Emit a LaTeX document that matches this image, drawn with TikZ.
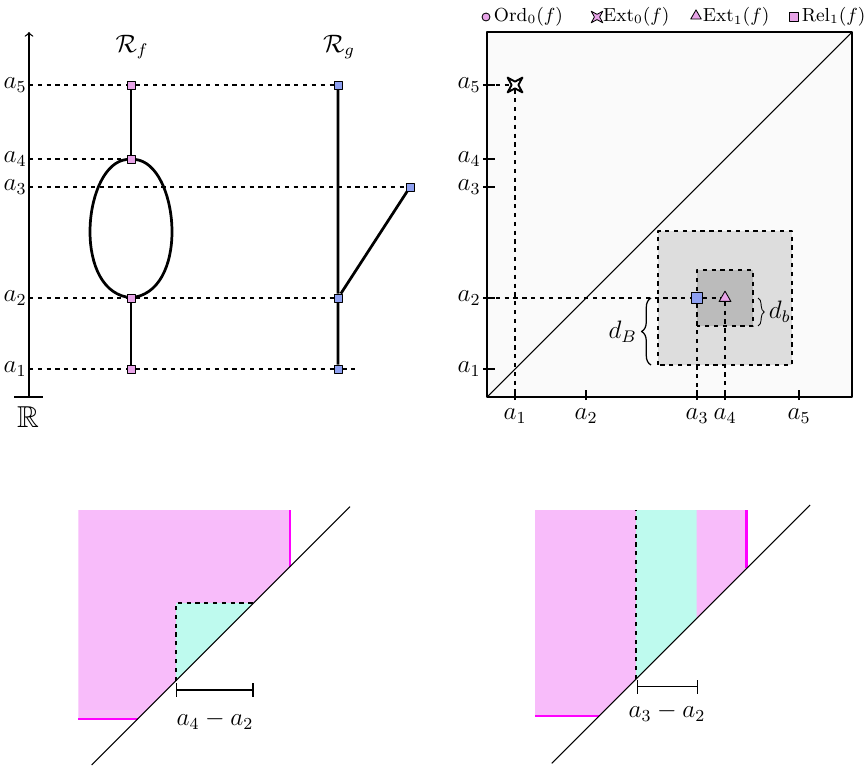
\documentclass[tikz,border=0pt]{standalone}
\usepackage{amssymb}
\usetikzlibrary{positioning,shapes.geometric,decorations.pathreplacing}

\definecolor{vtxpink}{RGB}{232,164,232}
\definecolor{vtxblue}{RGB}{142,160,240}
\definecolor{regpink}{RGB}{248,188,250}
\definecolor{regcyan}{RGB}{190,250,238}
\definecolor{bdmag}{RGB}{255,0,255}
\definecolor{boxgray}{RGB}{250,250,250}
\definecolor{dBgray}{RGB}{221,221,221}
\definecolor{dbgray}{RGB}{187,187,187}

\begin{document}
\begin{tikzpicture}[x=0.1673cm,y=0.1673cm,line join=round,>=to,every node/.style={inner sep=1pt},
  dots/.style={dash pattern=on 2pt off 2.2pt,line width=0.55pt},
  edge/.style={line width=1.3pt},
  vtxf/.style={draw,rectangle,fill=vtxpink,minimum size=3.8pt,inner sep=0pt,line width=0.4pt},
  vtxg/.style={draw,rectangle,fill=vtxblue,minimum size=3.8pt,inner sep=0pt,line width=0.4pt},
  ordmark/.style={draw,circle,fill=vtxpink,minimum size=3.8pt,inner sep=0pt,line width=0.4pt},
  starmark/.style={draw,star,star points=4,star point ratio=0.32,minimum size=2.5pt,inner sep=0pt,line width=0.4pt,fill=vtxpink},
  trimark/.style={draw,regular polygon,regular polygon sides=3,fill=vtxpink,minimum size=5.8pt,inner sep=0pt,line width=0.4pt},
  relmark/.style={draw,rectangle,fill=vtxpink,minimum size=4pt,inner sep=0pt,line width=0.4pt},
  bdry/.style={bdmag,line width=1.2pt},
  bar/.style={|-|,line width=0.7pt}]
  \useasboundingbox (0,0) rectangle (86.4,76.6);
  \def\yb{36.9}
  \def\xb{48.7}
  \def\ai{2.8}
  \def\aii{9.9}
  \def\aiii{21.0}
  \def\aiv{23.8}
  \def\av{31.2}

  % the real line and the two Reeb graphs
  \draw[->,line width=0.6pt] (2.9,\yb) -- (2.9,73.4);
  \draw[line width=0.6pt] (1.4,\yb) -- (4.3,\yb);
  \node (reals) at (2.8,34.9) {\Large$\mathbb{R}$};
  \foreach \h/\k in {\ai/1,\aii/2,\aiii/3,\aiv/4,\av/5}{
    \coordinate (ax\k) at (2.9,\yb+\h);
    \node[left] (lev\k) at (ax\k) {\large$a_{\k}$};
  }
  \node (Rf) at (13.2,71.9) {\large$\mathcal{R}_f$};
  \node (Rg) at (33.9,71.9) {\large$\mathcal{R}_g$};
  \node[vtxf] (f1) at (13.1,\yb+\ai) {};
  \node[vtxf] (f2) at (13.1,\yb+\aii) {};
  \node[vtxf] (f4) at (13.1,\yb+\aiv) {};
  \node[vtxf] (f5) at (13.1,\yb+\av) {};
  \node[vtxg] (g1) at (33.8,\yb+\ai) {};
  \node[vtxg] (g2) at (33.8,\yb+\aii) {};
  \node[vtxg] (g5) at (33.8,\yb+\av) {};
  \node[vtxg] (g3) at (41.0,\yb+\aiii) {};
  \coordinate (g1end) at (35.7,\yb+\ai);
  \draw[dots] (ax5) -- (f5) (f5) -- (g5);
  \draw[dots] (ax4) -- (f4);
  \draw[dots] (ax3) -- (g3);
  \draw[dots] (ax2) -- (f2) (f2) -- (g2);
  \draw[dots] (ax1) -- (f1) (f1) -- (g1) (g1) -- (g1end);
  \draw[edge] (f1) -- (f2) (f4) -- (f5);
  \draw[edge] (f2) .. controls (7.2,48.0) and (8.4,60.2) .. (f4);
  \draw[edge] (f2) .. controls (19.0,48.0) and (17.8,60.2) .. (f4);
  \draw[edge] (g1) -- (g2) (g2) -- (g5) (g2) -- (g3);

  % extended persistence diagram
  \coordinate (O) at (\xb,\yb);
  \coordinate (corner) at (85.2,73.4);
  \draw[line width=0.7pt,fill=boxgray] (O) rectangle (corner);
  \draw[dots,fill=dBgray] (\xb+\aiv-6.7,\yb+\aii-6.7) rectangle (\xb+\aiv+6.7,\yb+\aii+6.7);
  \draw[dots,fill=dbgray] (\xb+\aiii,\yb+\aii-2.8) rectangle (\xb+\aiv+2.8,\yb+\aii+2.8);
  \draw[line width=0.5pt] (O) -- (corner);
  \foreach \h/\k in {\ai/1,\aii/2,\aiii/3,\aiv/4,\av/5}{
    \coordinate (xt\k) at (\xb+\h,\yb);
    \coordinate (yt\k) at (\xb,\yb+\h);
    \draw[line width=0.6pt] (\xb+\h,\yb-0.3) -- (\xb+\h,\yb+0.7);
    \draw[line width=0.6pt] (\xb-0.4,\yb+\h) -- (\xb+0.8,\yb+\h);
    \node[below=4.5pt] (xl\k) at (xt\k) {\large$a_{\k}$};
    \node[left] (yl\k) at (\xb-0.4,\yb+\h) {\large$a_{\k}$};
  }
  \node[starmark,fill=white,line width=0.9pt,minimum size=3.2pt] (ext0) at (\xb+\ai,\yb+\av) {};
  \node[relmark,fill=vtxblue,minimum size=5pt] (rel1) at (\xb+\aiii,\yb+\aii) {};
  \node[trimark,minimum size=6.5pt] (ext1) at (\xb+\aiv,\yb+\aii) {};
  \draw[dots] (yt5) -- (ext0);
  \draw[dots] (ext0) -- (xt1);
  \draw[dots] (yt2) -- (rel1);
  \draw[dots] (rel1) -- (ext1);
  \draw[dots] (rel1) -- (xt3);
  \draw[dots] (ext1) -- (xt4);
  \coordinate (dBlo) at (65.1,\yb+\aii-6.7);
  \coordinate (dBhi) at (65.1,\yb+\aii);
  \coordinate (dbhi) at (75.8,\yb+\aii);
  \coordinate (dblo) at (75.8,\yb+\aii-2.8);
  \draw[line width=0.6pt,decorate,decoration={brace,amplitude=4.5pt}] (dBlo) -- (dBhi) node[midway,left=5.5pt] (dBlab) {\large$d_B$};
  \draw[decorate,decoration={brace,amplitude=3pt}] (dbhi) -- (dblo) node[midway,right=4pt] (dblab) {\large$d_b$};

  % legend
  \node[ordmark] (lgOrd) at (48.6,74.9) {};
  \node[right=0.5pt of lgOrd] (lgOrdT) {\small$\mathrm{Ord}_0(f)$};
  \node[starmark] (lgExt0) at (59.7,74.9) {};
  \node[right=0.2pt of lgExt0] (lgExt0T) {\small$\mathrm{Ext}_0(f)$};
  \node[trimark] (lgExt1) at (69.6,75.0) {};
  \node[right=0.2pt of lgExt1,yshift=-0.6pt] (lgExt1T) {\small$\mathrm{Ext}_1(f)$};
  \node[relmark] (lgRel) at (79.4,74.9) {};
  \node[right=0.3pt of lgRel] (lgRelT) {\small$\mathrm{Rel}_1(f)$};

  % regions, left
  \fill[regpink] (7.83,25.6) -- (29.0,25.6) -- (29.0,19.93) -- (13.77,4.7) -- (7.83,4.7) -- cycle;
  \fill[regcyan] (17.6,16.3) -- (17.6,8.53) -- (25.37,16.3) -- cycle;
  \draw[dots] (17.6,8.53) -- (17.6,16.3) -- (25.37,16.3);
  \draw[bdry] (29.0,25.6) -- (29.0,19.93);
  \draw[bdry] (7.83,4.7) -- (13.77,4.7);
  \draw[line width=0.5pt] (9.17,0.1) -- (35.0,25.93);
  \coordinate (wl) at (17.6,7.6);
  \coordinate (wr) at (25.37,7.6);
  \draw[bar] (wl) -- (wr);
  \node (wlab) at (21.5,4.6) {\large$a_4-a_2$};

  % regions, right
  \fill[regpink] (53.5,25.6) -- (74.67,25.6) -- (74.67,19.77) -- (59.9,5.0) -- (53.5,5.0) -- cycle;
  \fill[regcyan] (63.6,25.6) -- (69.67,25.6) -- (69.67,14.77) -- (63.6,8.7) -- cycle;
  \draw[dots] (63.6,8.7) -- (63.6,25.6);
  \draw[bdry] (74.67,25.6) -- (74.67,19.77);
  \draw[bdry] (53.5,5.0) -- (59.9,5.0);
  \draw[line width=0.5pt] (55.17,0.27) -- (81.0,26.1);
  \coordinate (vl) at (63.7,7.93);
  \coordinate (vr) at (69.8,7.93);
  \draw[bar] (vl) -- (vr);
  \node (vlab) at (66.7,5.4) {\large$a_3-a_2$};
\end{tikzpicture}
\end{document}
